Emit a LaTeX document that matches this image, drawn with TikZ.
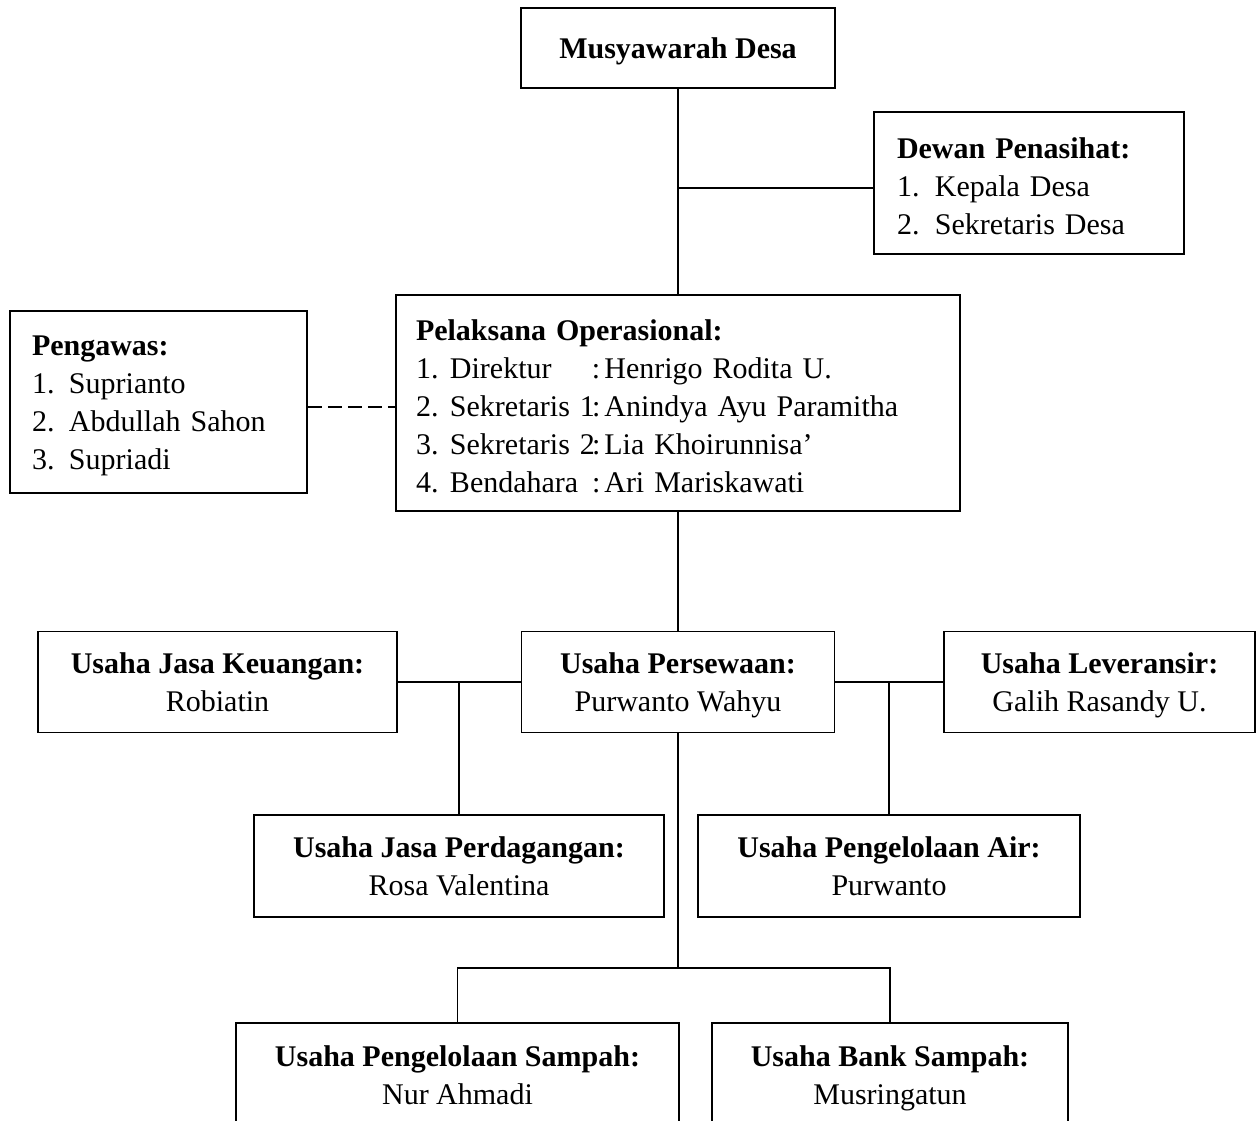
\documentclass[tikz,border=0pt]{standalone}
\usepackage{fontspec}
\setmainfont{Liberation Serif}
\usetikzlibrary{positioning, calc}
\tikzset{
  bingkai/.style={draw, rectangle, line width=1.8pt, inner sep=0pt,
    font=\fontsize{30}{38}\selectfont},
  kotak/.style={bingkai, align=center, text depth=-8pt},
  daftar/.style={bingkai, align=left, text height=28pt},
  garis/.style={line width=1.8pt},
  putus/.style={garis, dash pattern=on 14pt off 6pt},
}

\begin{document}
\begin{tikzpicture}[x=1pt, y=-1pt]
  \useasboundingbox (0,0) rectangle (1257,1120);
  \clip (0,0) rectangle (1257,1120);

  % pimpinan
  \node[kotak, text depth=-14pt, minimum width=314, minimum height=80] (musdes) at (678,48) {\textbf{Musyawarah Desa}};
  \node[daftar, text width=264, minimum width=310, minimum height=142] (dewan) at (1029,183)
    {\textbf{Dewan Penasihat:}\\
     \makebox[38pt][l]{1.}Kepala Desa\\
     \makebox[38pt][l]{2.}Sekretaris Desa};
  \node[daftar, text width=524, minimum width=564, minimum height=216] (pelak) at (678,403)
    {\textbf{Pelaksana Operasional:}\\
     \makebox[34pt][l]{1.}\makebox[142pt][l]{Direktur}:\hspace{4pt}Henrigo Rodita U.\\
     \makebox[34pt][l]{2.}\makebox[142pt][l]{Sekretaris 1}:\hspace{4pt}Anindya Ayu Paramitha\\
     \makebox[34pt][l]{3.}\makebox[142pt][l]{Sekretaris 2}:\hspace{4pt}Lia Khoirunnisa'\\
     \makebox[34pt][l]{4.}\makebox[142pt][l]{Bendahara}:\hspace{4pt}Ari Mariskawati};
  \node[daftar, text width=253, minimum width=297, minimum height=182] (pengawas) at (158.5,402)
    {\textbf{Pengawas:}\\
     \makebox[37pt][l]{1.}Suprianto\\
     \makebox[37pt][l]{2.}Abdullah Sahon\\
     \makebox[37pt][l]{3.}Supriadi};

  % unit usaha
  \node[kotak, minimum width=359, minimum height=101] (keu) at (217.5,682) {\textbf{Usaha Jasa Keuangan:}\\Robiatin};
  \node[kotak, minimum width=313, minimum height=101] (sewa) at (678,682) {\textbf{Usaha Persewaan:}\\Purwanto Wahyu};
  \node[kotak, minimum width=311, minimum height=101] (lev) at (1099.5,682) {\textbf{Usaha Leveransir:}\\Galih Rasandy U.};
  \node[kotak, minimum width=410, minimum height=102] (dagang) at (459,866) {\textbf{Usaha Jasa Perdagangan:}\\Rosa Valentina};
  \node[kotak, minimum width=382, minimum height=102] (air) at (889,866) {\textbf{Usaha Pengelolaan Air:}\\Purwanto};
  \node[kotak, anchor=north, minimum width=443, text height=82pt, text depth=60pt] (sampah) at (457.5,1022)
    {\textbf{Usaha Pengelolaan Sampah:}\\Nur Ahmadi};
  \node[kotak, anchor=north, minimum width=356, text height=82pt, text depth=60pt] (bank) at (890,1022)
    {\textbf{Usaha Bank Sampah:}\\Musringatun};

  % garis
  \draw[garis] (musdes) -- (pelak);
  \draw[garis] ([yshift=-5pt]dewan.west) -- ([yshift=-5pt]dewan.west -| musdes.south);
  \draw[putus] ([yshift=-5pt]pengawas.east) -- ([yshift=-5pt]pengawas.east -| pelak.west);
  \draw[garis] (pelak) -- (sewa);
  \draw[garis] (keu) -- (sewa);
  \draw[garis] (sewa) -- (lev);
  \draw[garis] (dagang.north) -- (dagang.north |- keu.east);
  \draw[garis] (air.north) -- (air.north |- lev.west);
  \coordinate (cabang) at (678,968);
  \draw[garis] (sewa) -- (cabang);
  \draw[garis] (sampah.north) |- (cabang) -| (bank.north);
\end{tikzpicture}
\end{document}
